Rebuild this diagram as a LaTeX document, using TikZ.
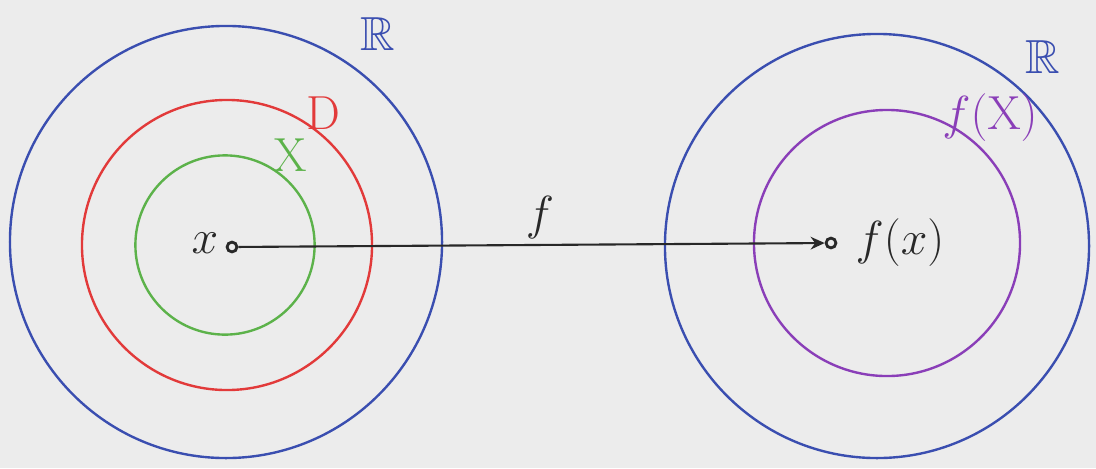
\RequirePackage{fix-cm}
\documentclass[tikz,border=0pt]{standalone}
\usepackage{amssymb}
\usetikzlibrary{arrows.meta}
\definecolor{paper}{RGB}{236,236,236}
\definecolor{pblue}{RGB}{58,78,176}
\definecolor{pred}{RGB}{226,58,58}
\definecolor{pgreen}{RGB}{92,178,74}
\definecolor{ppurple}{RGB}{138,62,184}
\definecolor{pink}{RGB}{40,40,40}
\tikzset{
  ring/.style={circle, draw, line width=1.7pt, inner sep=0pt},
  dotpt/.style={circle, draw=pink, line width=2pt, fill=paper, inner sep=0pt, minimum size=7pt},
  lab/.style={inner sep=1pt, font=\fontsize{34}{38}\selectfont},
}
\begin{document}
\begin{tikzpicture}[x=0.025cm,y=-0.025cm]
\fill[paper] (0,0) rectangle (1096,468);
\useasboundingbox (0,0) rectangle (1096,468);
% left side
\node[ring, draw=pblue, minimum size=10.8cm] (R1) at (226,242) {};
\node[ring, draw=pred, minimum size=7.25cm] (D) at (227,245) {};
\node[ring, draw=pgreen, minimum size=4.48cm] (X) at (225,245) {};
% right side
\node[ring, draw=pblue, minimum size=10.6cm] (R2) at (877,246) {};
\node[ring, draw=ppurple, minimum size=6.65cm] (FX) at (887,243) {};
% points
\node[dotpt] (px) at (232,247) {};
\node[dotpt] (pfx) at (831,243) {};
\draw[pink, line width=1.5pt, -{Stealth[length=10pt,width=9pt]}] (px) -- (pfx);
% labels
\node[lab, text=pblue] (lR1) at (378,34) {$\mathbb{R}$};
\node[lab, text=pblue] (lR2) at (1043,57) {$\mathbb{R}$};
\node[lab, text=pred] (lD) at (323,113) {$\mathrm{D}$};
\node[lab, text=pgreen] (lX) at (290,155) {$\mathrm{X}$};
\node[lab, text=ppurple] (lFX) at (990,118) {$f(\mathrm{X})$};
\node[lab, text=pink] (lf) at (540,218) {$f$};
\node[lab, text=pink] (lx) at (205,243) {$x$};
\node[lab, text=pink] (lfx) at (900,243) {$f(x)$};
\end{tikzpicture}
\end{document}
